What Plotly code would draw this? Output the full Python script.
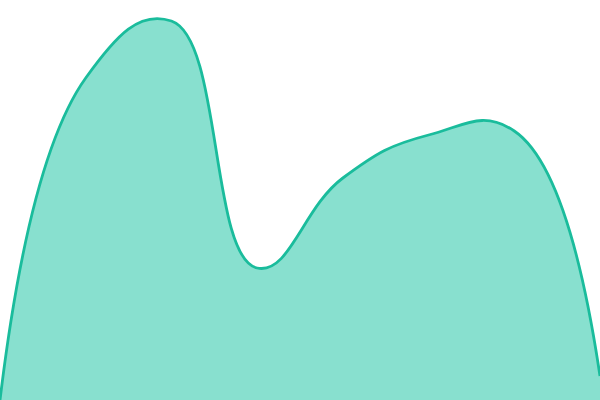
import plotly.graph_objects as go

steps = [0, 1, 2, 3, 4, 5, 6, 7]
values = [0, 322, 379, 132, 222, 265, 269, 24]

fig = go.Figure()
fig.add_trace(go.Scatter(
    x=steps, y=values,
    mode="lines",
    line=dict(color="#1abc9c", width=2.8, shape="spline", smoothing=1.3),
    fill="tozeroy",
    fillcolor="#88e0cf",
    hoverinfo="skip",
))
fig.update_xaxes(visible=False, range=[0, 7])
fig.update_yaxes(visible=False, range=[0, 400])
fig.update_layout(
    width=600, height=400,
    margin=dict(l=0, r=0, t=0, b=0),
    paper_bgcolor="white", plot_bgcolor="white",
    showlegend=False,
)
# drop the browser's default body margin so the chart sits flush
fig.write_html("out.html", config={"displayModeBar": False},
               post_script="document.body.style.margin='0';")
